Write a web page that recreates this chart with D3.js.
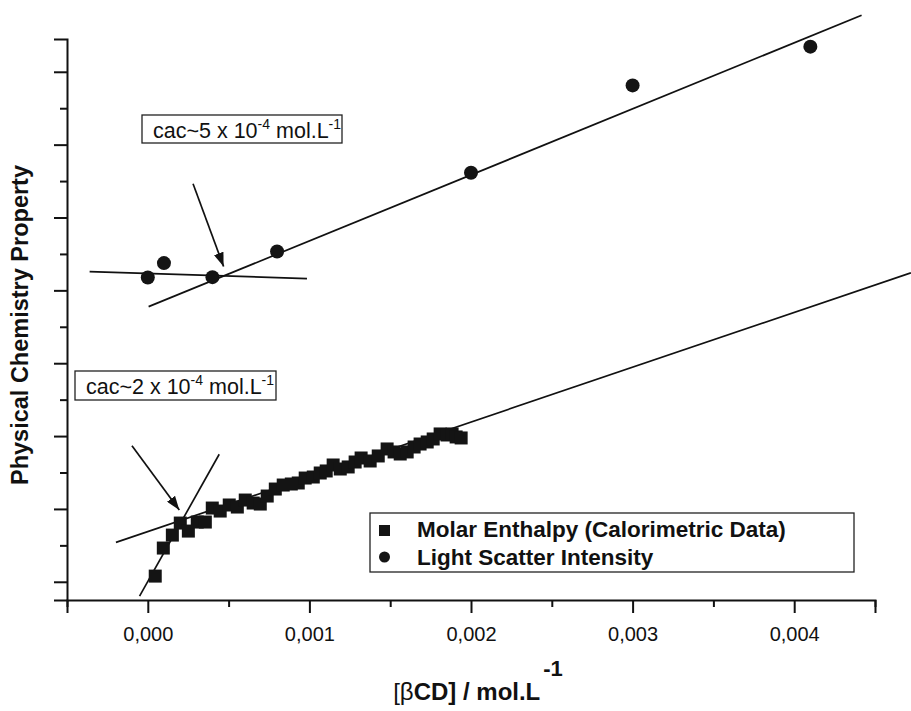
<!DOCTYPE html>
<html>
<head>
<meta charset="utf-8">
<script src="https://cdn.jsdelivr.net/npm/d3@7/dist/d3.min.js"></script>
<style>
  body { margin: 0; background: #fff; }
  text { font-family: "Liberation Sans", Arial, Helvetica, sans-serif; fill: #111; }
</style>
</head>
<body>
<div id="chart"></div>
<script>
// molar enthalpy (calorimetric data), [bCD] in mol/L and property in arbitrary units
var enthalpyX = [0.000046, 0.000096, 0.000152, 0.000201, 0.000251, 0.000306, 0.000356, 0.000399,
    0.000448, 0.000504, 0.000554, 0.000603, 0.000652, 0.000696, 0.000739, 0.000789, 0.000838,
    0.000888, 0.000931, 0.000974, 0.001024, 0.001067, 0.001104, 0.001147, 0.001191, 0.00124,
    0.001283, 0.00132, 0.001376, 0.001426, 0.001481, 0.001524, 0.001562, 0.001605, 0.001648,
    0.001685, 0.001729, 0.001766, 0.001809, 0.001852, 0.001883, 0.001908, 0.001939];
var enthalpyY = [1.078, 1.463, 1.641, 1.806, 1.696, 1.820, 1.820, 2.012,
    1.971, 2.054, 2.026, 2.122, 2.081, 2.067, 2.177, 2.273, 2.328,
    2.342, 2.356, 2.424, 2.438, 2.493, 2.521, 2.603, 2.548, 2.576,
    2.644, 2.699, 2.658, 2.727, 2.823, 2.782, 2.754, 2.782, 2.850,
    2.891, 2.919, 2.960, 3.029, 3.015, 3.029, 2.988, 2.974];

// light scatter intensity
var scatterX = [0.0000, 0.0001, 0.0004, 0.0008, 0.0020, 0.0030, 0.0041];
var scatterY = [5.176, 5.374, 5.181, 5.533, 6.614, 7.813, 8.345];

// fitted straight lines [x1, y1, x2, y2]
var fitLines = [
    [0.000005, 4.777, 0.004417, 8.775],   // scatter, above cac
    [-0.00036, 5.258, 0.000985, 5.162],   // scatter, below cac
    [-0.000051, 0.804, 0.000442, 2.750],  // enthalpy, steep part
    [-0.000197, 1.541, 0.004722, 5.240]   // enthalpy, shallow part
];

// arrows pointing at the cac [x1, y1, x2, y2]
var arrows = [
    [0.000280, 6.463, 0.000469, 5.327],
    [-0.000098, 2.868, 0.000195, 1.985]
];

var xMajor = [0, 0.001, 0.002, 0.003, 0.004];
var xMinor = [-0.0005, 0.0005, 0.0015, 0.0025, 0.0035, 0.0045];
var yMajor = [1, 2, 3, 4, 5, 6, 7, 8];
var yMinor = [1.5, 2.5, 3.5, 4.5, 5.5, 6.5, 7.5];

var cacLabels = ["cac~5 x 10", "cac~2 x 10"];
var legendNames = ["Molar Enthalpy (Calorimetric Data)", "Light Scatter Intensity"];

var width = 911, height = 711;

var svg = d3.select("#chart")
  .append("svg")
    .attr("width", width)
    .attr("height", height);

var x = d3.scaleLinear()
    .domain([-0.0005, 0.0045])
    .range([67, 875]);

var y = d3.scaleLinear()
    .domain([0.75, 8.45])
    .range([600, 39]);

// arrow head
svg.append("defs").append("marker")
    .attr("id", "head")
    .attr("markerUnits", "userSpaceOnUse")
    .attr("viewBox", "0 0 14 10")
    .attr("refX", 14)
    .attr("refY", 5)
    .attr("markerWidth", 14)
    .attr("markerHeight", 10)
    .attr("orient", "auto")
  .append("path")
    .attr("d", "M0,0 L14,5 L0,10 Z")
    .attr("fill", "#111");

// X axis
var fmt = d3.format(".3f");
var xAxis = svg.append("g")
    .attr("transform", "translate(0,600)")
    .call(d3.axisBottom(x).tickValues(xMajor).tickSize(13).tickPadding(14)
        .tickFormat(function(d) { return fmt(d).replace(".", ","); }));
xAxis.selectAll("text").style("font-size", "20px");
svg.append("g")
    .attr("transform", "translate(0,600)")
    .call(d3.axisBottom(x).tickValues(xMinor).tickSize(7).tickFormat(""))
    .select(".domain").remove();

// Y axis, no labels
svg.append("g")
    .attr("transform", "translate(67,0)")
    .call(d3.axisLeft(y).tickValues(yMajor).tickSize(13).tickFormat(""));
svg.append("g")
    .attr("transform", "translate(67,0)")
    .call(d3.axisLeft(y).tickValues(yMinor).tickSize(7).tickFormat(""))
    .select(".domain").remove();

svg.selectAll(".domain").attr("stroke", "#111").attr("stroke-width", 2);
svg.selectAll(".tick line").attr("stroke", "#111").attr("stroke-width", 2);

// fit lines
svg.selectAll("line.fit")
    .data(fitLines)
    .enter()
    .append("line")
    .attr("class", "fit")
    .attr("x1", function(d) { return x(d[0]); })
    .attr("y1", function(d) { return y(d[1]); })
    .attr("x2", function(d) { return x(d[2]); })
    .attr("y2", function(d) { return y(d[3]); })
    .attr("stroke", "#111")
    .attr("stroke-width", 1.7);

svg.selectAll("line.arrow")
    .data(arrows)
    .enter()
    .append("line")
    .attr("class", "arrow")
    .attr("x1", function(d) { return x(d[0]); })
    .attr("y1", function(d) { return y(d[1]); })
    .attr("x2", function(d) { return x(d[2]); })
    .attr("y2", function(d) { return y(d[3]); })
    .attr("stroke", "#111")
    .attr("stroke-width", 1.7)
    .attr("marker-end", "url(#head)");

// data points
var sq = 13;
svg.selectAll("rect.enth")
    .data(enthalpyX)
    .enter()
    .append("rect")
    .attr("class", "enth")
    .attr("x", function(d) { return x(d) - sq / 2; })
    .attr("y", function(d, i) { return y(enthalpyY[i]) - sq / 2; })
    .attr("width", sq)
    .attr("height", sq)
    .attr("fill", "#141414");

svg.selectAll("circle.scat")
    .data(scatterX)
    .enter()
    .append("circle")
    .attr("class", "scat")
    .attr("cx", function(d) { return x(d); })
    .attr("cy", function(d, i) { return y(scatterY[i]); })
    .attr("r", 7)
    .attr("fill", "#141414");

// cac boxes
var boxes = [
    {left: 142, top: 115, w: 200, h: 28, label: cacLabels[0]},
    {left: 75, top: 371, w: 201, h: 29, label: cacLabels[1]}
];
boxes.forEach(function(b) {
    svg.append("rect")
        .attr("x", b.left)
        .attr("y", b.top)
        .attr("width", b.w)
        .attr("height", b.h)
        .attr("fill", "#fff")
        .attr("stroke", "#222")
        .attr("stroke-width", 1.3);
    var t = svg.append("text")
        .attr("x", b.left + 11)
        .attr("y", b.top + 23)
        .style("font-size", "21.5px");
    t.append("tspan").text(b.label);
    t.append("tspan").attr("dy", -9).style("font-size", "14px").text("-4");
    t.append("tspan").attr("dy", 9).text(" mol.L");
    t.append("tspan").attr("dy", -9).style("font-size", "14px").text("-1");
});

// legend
svg.append("rect")
    .attr("x", 370)
    .attr("y", 513)
    .attr("width", 484)
    .attr("height", 59)
    .attr("fill", "#fff")
    .attr("stroke", "#222")
    .attr("stroke-width", 1.3);
svg.append("rect")
    .attr("x", 379).attr("y", 525).attr("width", 11).attr("height", 11)
    .attr("fill", "#141414");
svg.append("circle")
    .attr("cx", 384.5).attr("cy", 557).attr("r", 5.5)
    .attr("fill", "#141414");
svg.selectAll("text.leg")
    .data(legendNames)
    .enter()
    .append("text")
    .attr("class", "leg")
    .attr("x", 417)
    .attr("y", function(d, i) { return 537 + i * 28; })
    .style("font-size", "22.5px")
    .style("font-weight", "bold")
    .text(function(d) { return d; });

// axis titles
var xt = svg.append("text")
    .attr("x", 478)
    .attr("y", 700)
    .attr("text-anchor", "middle")
    .style("font-size", "24px");
xt.append("tspan").text("[β");
xt.append("tspan").style("font-weight", "bold").text("CD] / mol.L");
xt.append("tspan").attr("dx", 3).attr("dy", -24).style("font-weight", "bold").style("font-size", "22px").text("-1");

svg.append("text")
    .attr("transform", "translate(28,325) rotate(-90)")
    .attr("text-anchor", "middle")
    .style("font-size", "23.5px")
    .style("font-weight", "bold")
    .text("Physical Chemistry Property");
</script>
</body>
</html>
